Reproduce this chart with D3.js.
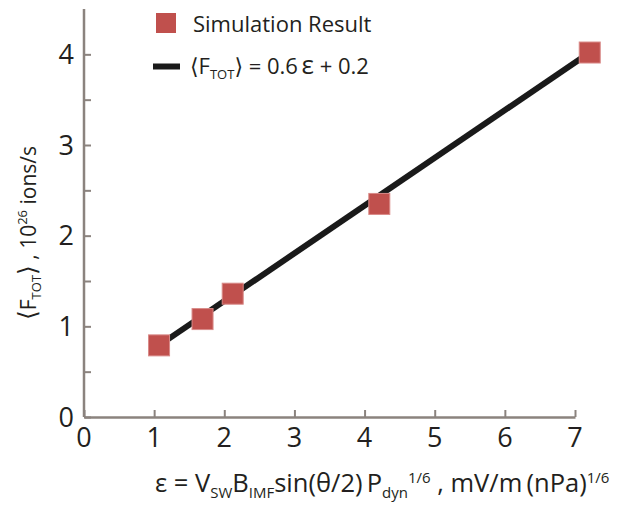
<!DOCTYPE html>
<html>
<head>
<meta charset="utf-8">
<script src="https://cdn.jsdelivr.net/npm/d3@7/dist/d3.min.js"></script>
<style>
  body { margin: 0; background: #fff; }
  svg text { font-family: "Open Sans", "DejaVu Sans", sans-serif; fill: #231f20; }
</style>
</head>
<body>
<div class="container"></div>
<script>
// simulation points as they sit on the drawn axes
var epsValues = [1.07, 1.69, 2.12, 4.21, 7.21];
var fluxValues = [0.79, 1.08, 1.36, 2.35, 4.02];
// fit line ends
var fitEps = [1.07, 7.21];
var fitFlux = [0.79, 4.02];
var xTicks = [0, 1, 2, 3, 4, 5, 6, 7];
var yTicks = [0, 0.5, 1, 1.5, 2, 2.5, 3, 3.5, 4];
var yLabels = [0, 1, 2, 3, 4];

var width = 643, height = 508;
var axisColor = "#8b837e";
var red = "#c0504d";

var svg = d3.select(".container")
  .append("svg")
    .attr("width", width)
    .attr("height", height);

var x = d3.scaleLinear().domain([0, 7]).range([84, 575]);
var y = d3.scaleLinear().domain([0, 4.5]).range([417, 9]);

// x axis, ticks pointing up
var xAxis = svg.append("g")
  .attr("transform", "translate(0," + y(0) + ")")
  .call(d3.axisTop(x).tickValues(xTicks).tickSize(7).tickSizeOuter(0).tickFormat(""));
xAxis.select(".domain").attr("stroke", axisColor).attr("stroke-width", 2.5);
xAxis.selectAll(".tick line").attr("stroke", axisColor).attr("stroke-width", 2);

// y axis, ticks pointing right
var yAxis = svg.append("g")
  .attr("transform", "translate(" + x(0) + ",0)")
  .call(d3.axisRight(y).tickValues(yTicks).tickSize(7).tickSizeOuter(0).tickFormat(""));
yAxis.select(".domain").attr("stroke", axisColor).attr("stroke-width", 2.5)
  .attr("d", "M0," + y(4.5) + "V" + y(0));
yAxis.selectAll(".tick line").attr("stroke", axisColor).attr("stroke-width", 2);

// tick labels
svg.selectAll(".xlab")
  .data(xTicks)
  .enter()
  .append("text")
    .attr("class", "xlab")
    .attr("x", d => x(d))
    .attr("y", 447)
    .attr("text-anchor", "middle")
    .style("font-size", "27px")
    .text(d => d);

svg.selectAll(".ylab")
  .data(yLabels)
  .enter()
  .append("text")
    .attr("class", "ylab")
    .attr("x", 74)
    .attr("y", d => y(d) + 9.5)
    .attr("text-anchor", "end")
    .style("font-size", "27px")
    .text(d => d);

// fit line
var line = d3.line().x(d => x(d[0])).y(d => y(d[1]));
svg.append("path")
  .datum(d3.zip(fitEps, fitFlux))
  .attr("d", line)
  .attr("fill", "none")
  .attr("stroke", "#1a1a1a")
  .attr("stroke-width", 6);

// points
var sq = 21;
svg.selectAll(".pt")
  .data(d3.zip(epsValues, fluxValues))
  .enter()
  .append("rect")
    .attr("class", "pt")
    .attr("x", d => x(d[0]) - sq / 2)
    .attr("y", d => y(d[1]) - sq / 2)
    .attr("width", sq)
    .attr("height", sq)
    .attr("fill", red)
    .attr("stroke", "#d98a88")
    .attr("stroke-width", 1);

// legend
svg.append("rect")
  .attr("x", 156).attr("y", 13)
  .attr("width", 20).attr("height", 20)
  .attr("fill", red);
svg.append("text")
  .attr("x", 193).attr("y", 31.5)
  .style("font-size", "22px")
  .text("Simulation Result");

svg.append("line")
  .attr("x1", 153).attr("x2", 180)
  .attr("y1", 66.5).attr("y2", 66.5)
  .attr("stroke", "#1a1a1a")
  .attr("stroke-width", 6);
var leg2 = svg.append("text")
  .attr("x", 190).attr("y", 74)
  .style("font-size", "22px");
leg2.append("tspan").text("\u27E8F");
leg2.append("tspan").attr("dy", 5).style("font-size", "13px").text("TOT");
leg2.append("tspan").attr("dy", -5).text("\u27E9 = 0.6\u2009");
leg2.append("tspan").style("font-size", "26px").text("\u03B5");
leg2.append("tspan").text(" + 0.2");

// x axis title
var xt = svg.append("text")
  .attr("x", 155).attr("y", 492)
  .style("font-size", "25.5px");
xt.append("tspan").text("\u03B5 = V");
xt.append("tspan").attr("dy", 6).style("font-size", "15px").text("SW");
xt.append("tspan").attr("dy", -6).text("B");
xt.append("tspan").attr("dy", 6).style("font-size", "15px").text("IMF");
xt.append("tspan").attr("dy", -6).text("sin(\u03B8/2)\u2009P");
xt.append("tspan").attr("dy", 6).style("font-size", "15px").text("dyn");
xt.append("tspan").attr("dy", -15).style("font-size", "15px").text("1/6");
xt.append("tspan").attr("dy", 9).text(" , mV/m\u2009(nPa)");
xt.append("tspan").attr("dy", -9).style("font-size", "15px").text("1/6");

// y axis title
var yt = svg.append("text")
  .attr("transform", "translate(36,320) rotate(-90)")
  .style("font-size", "21px");
yt.append("tspan").style("font-size", "25px").text("\u27E8");
yt.append("tspan").text("F");
yt.append("tspan").attr("dy", 5).style("font-size", "13px").text("TOT");
yt.append("tspan").attr("dy", -5).style("font-size", "25px").text("\u27E9");
yt.append("tspan").text(" , 10");
yt.append("tspan").attr("dy", -9).style("font-size", "13px").text("26");
yt.append("tspan").attr("dy", 9).text(" ions/s");
</script>
</body>
</html>
